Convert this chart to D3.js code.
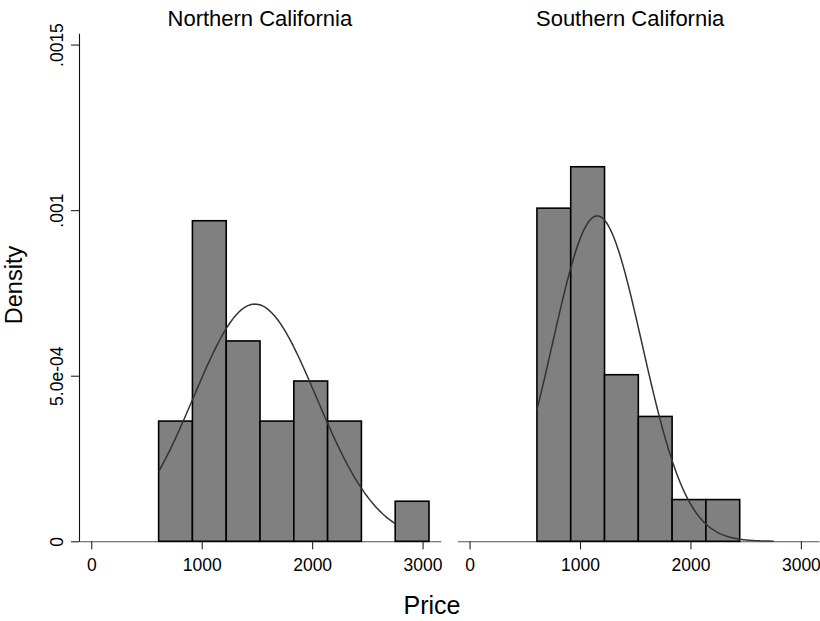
<!DOCTYPE html>
<html>
<head>
<meta charset="utf-8">
<script src="https://cdn.jsdelivr.net/npm/d3@7"></script>
<style>
  html, body { margin: 0; padding: 0; background: #fff; }
  svg { display: block; font-family: "Liberation Sans", Arial, Helvetica, sans-serif; }
</style>
</head>
<body>
<svg id="chart" width="820" height="621"></svg>
<script>
// Histogram bins shared by both regions (price)
const binStart = 610;
const binWidth = 306;

// Density of each bin, per region
const northDensity = [0.000363, 0.000968, 0.000605, 0.000363, 0.000484, 0.000363, 0, 0.000121];
const southDensity = [0.001006, 0.001131, 0.000503, 0.000377, 0.000126, 0.000126];

// Fitted normal overlays
const northNormal = { mean: 1482, sd: 557 };
const southNormal = { mean: 1156, sd: 406 };
const curveRange = [610, 2755];

const panelTitles = ["Northern California", "Southern California"];
const xTicks = [0, 1000, 2000, 3000];
const yTicks = [0, 0.0005, 0.001, 0.0015];
const yTickLabels = ["0", "5.0e-04", ".001", ".0015"];

const svg = d3.select("#chart");

const y = d3.scaleLinear().domain([0, 0.001534]).range([541.3, 33.3]);
const xDomain = [-111, 3164];

const panels = [
  { title: panelTitles[0], dens: northDensity, normal: northNormal, range: [79, 440.7], yAxis: true },
  { title: panelTitles[1], dens: southDensity, normal: southNormal, range: [457.3, 819], yAxis: false }
];

function normalPdf(v, m, s) {
  return Math.exp(-((v - m) * (v - m)) / (2 * s * s)) / (s * Math.sqrt(2 * Math.PI));
}

panels.forEach(p => {
  const x = d3.scaleLinear().domain(xDomain).range(p.range);
  const g = svg.append("g");

  // x axis
  const xa = g.append("g")
    .attr("transform", `translate(0,${y(0)})`)
    .call(d3.axisBottom(x).tickValues(xTicks).tickSize(8).tickSizeOuter(0).tickPadding(9).tickFormat(d3.format("d")));
  xa.select(".domain").attr("stroke", "#555").attr("stroke-width", 1.1);
  xa.selectAll(".tick line").attr("stroke", "#222").attr("stroke-width", 1.1);
  xa.selectAll(".tick text").attr("font-size", 17.5).attr("fill", "#000");

  // y axis (left panel only)
  if (p.yAxis) {
    const ya = g.append("g")
      .attr("transform", `translate(${p.range[0]},0)`)
      .call(d3.axisLeft(y).tickValues(yTicks).tickSize(8).tickSizeOuter(0)
        .tickFormat((d, i) => yTickLabels[i]));
    ya.select(".domain").attr("stroke", "#111").attr("stroke-width", 1.1);
    ya.selectAll(".tick line").attr("stroke", "#222").attr("stroke-width", 1.1);
    ya.selectAll(".tick text")
      .attr("transform", "rotate(-90)")
      .attr("text-anchor", "middle")
      .attr("x", 0).attr("y", -16).attr("dy", 0)
      .attr("font-size", 17.5).attr("fill", "#000");
  }

  // bars
  g.append("g").selectAll("rect")
    .data(p.dens.map((d, i) => ({ x0: binStart + i * binWidth, x1: binStart + (i + 1) * binWidth, d })).filter(b => b.d > 0))
    .join("rect")
    .attr("x", b => x(b.x0))
    .attr("width", b => x(b.x1) - x(b.x0))
    .attr("y", b => y(b.d))
    .attr("height", b => y(0) - y(b.d))
    .attr("fill", "#808080")
    .attr("stroke", "#000")
    .attr("stroke-width", 1.6);

  // normal density curve
  const pts = d3.range(curveRange[0], curveRange[1] + 0.1, (curveRange[1] - curveRange[0]) / 200)
    .map(v => [v, normalPdf(v, p.normal.mean, p.normal.sd)]);
  g.append("path")
    .datum(pts)
    .attr("fill", "none")
    .attr("stroke", "#333")
    .attr("stroke-width", 1.5)
    .attr("d", d3.line().x(d => x(d[0])).y(d => y(d[1])));

  // panel title
  g.append("text")
    .attr("x", (p.range[0] + p.range[1]) / 2 - (p.yAxis ? 0 : 8))
    .attr("y", 26)
    .attr("text-anchor", "middle")
    .attr("font-size", 22)
    .attr("fill", "#000")
    .text(p.title);
});

// axis titles
svg.append("text")
  .attr("transform", "translate(22,285) rotate(-90)")
  .attr("text-anchor", "middle")
  .attr("font-size", 23.5)
  .attr("fill", "#000")
  .text("Density");

svg.append("text")
  .attr("x", 432)
  .attr("y", 614)
  .attr("text-anchor", "middle")
  .attr("font-size", 25)
  .attr("fill", "#000")
  .text("Price");
</script>
</body>
</html>
